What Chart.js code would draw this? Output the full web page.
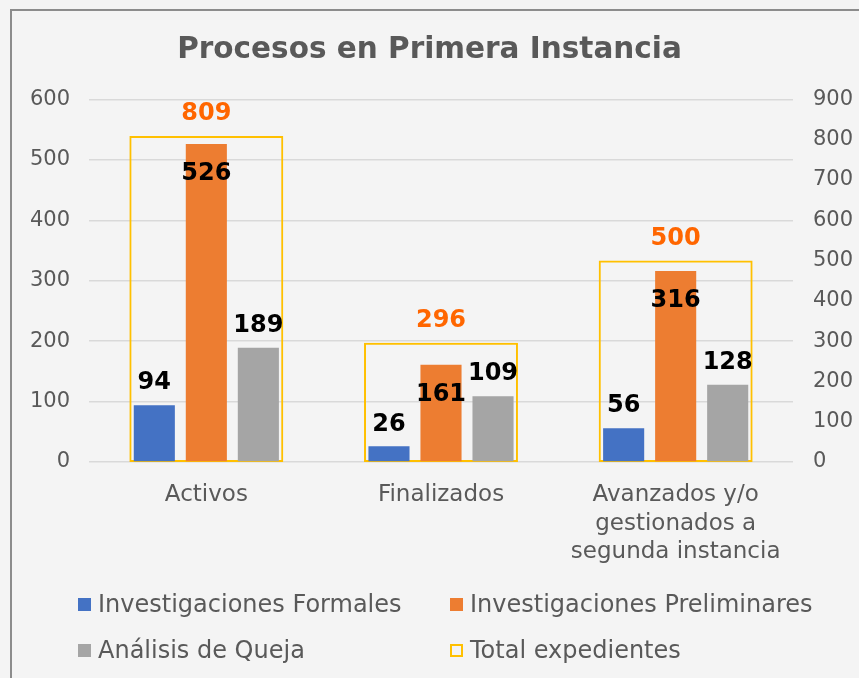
<!DOCTYPE html>
<html>
<head>
  <title>Procesos en Primera Instancia</title>
  <script src="https://cdn.jsdelivr.net/npm/chart.js@4.4.1/dist/chart.umd.min.js"></script>
  <style>
    html, body {
      margin: 0;
      padding: 0;
      background: #f4f4f4;
      font-family: "DejaVu Sans", Verdana, sans-serif;
    }
    #wrap {
      position: relative;
      width: 859px;
      height: 678px;
      overflow: hidden;
    }
    #frame {
      position: absolute;
      left: 10px;
      top: 9px;
      width: 900px;
      height: 700px;
      border-left: 2px solid #8c8c8c;
      border-top: 2px solid #8c8c8c;
    }
    #chart-box {
      position: absolute;
      left: 0;
      top: 0;
      width: 859px;
      height: 678px;
    }
    .legend {
      position: absolute;
      left: 0;
      top: 590px;
      width: 859px;
      color: #595959;
      font-size: 24px;
    }
    .legend .item {
      position: absolute;
      white-space: nowrap;
      line-height: 28px;
    }
    .legend .swatch {
      display: inline-block;
      width: 13px;
      height: 13px;
      margin-right: 7px;
      vertical-align: 1px;
      box-sizing: border-box;
    }
  </style>
</head>
<body>
  <div id="wrap">
    <div id="frame"></div>
    <div id="chart-box"><canvas id="chart"></canvas></div>
    <div class="legend" id="legend"></div>
  </div>

  <script>
    // data
    const categories = ['Activos', 'Finalizados', ['Avanzados y/o', 'gestionados a', 'segunda instancia']];
    const formales = [94, 26, 56];
    const preliminares = [526, 161, 316];
    const queja = [189, 109, 128];
    const totales = [809, 296, 500];
    const leftTicks = [0, 100, 200, 300, 400, 500, 600];
    const rightTicks = [0, 100, 200, 300, 400, 500, 600, 700, 800, 900];

    const FONT = '"DejaVu Sans", Verdana, sans-serif';
    const GREY_TXT = '#595959';

    // value labels drawn above / inside bars
    const valueLabels = {
      id: 'valueLabels',
      afterDatasetsDraw(chart) {
        const ctx = chart.ctx;
        ctx.save();
        ctx.font = 'bold 24px ' + FONT;
        ctx.textAlign = 'center';
        ctx.textBaseline = 'middle';
        chart.data.datasets.forEach((ds, i) => {
          const meta = chart.getDatasetMeta(i);
          meta.data.forEach((bar, j) => {
            const v = ds.data[j];
            let y = bar.y - 22;
            if (ds.labelPos === 'inside') y = bar.y + 30;
            ctx.fillStyle = ds.labelColor || '#000';
            ctx.fillText(String(v), bar.x, y);
          });
        });
        ctx.restore();
      }
    };

    const datasets = [
      {
        label: 'Investigaciones Formales',
        data: formales,
        backgroundColor: '#4472c4',
        yAxisID: 'y',
        categoryPercentage: 0.665,
        barPercentage: 0.79,
        labelPos: 'outside'
      },
      {
        label: 'Investigaciones Preliminares',
        data: preliminares,
        backgroundColor: '#ed7d31',
        yAxisID: 'y',
        categoryPercentage: 0.665,
        barPercentage: 0.79,
        labelPos: 'inside'
      },
      {
        label: 'Análisis de Queja',
        data: queja,
        backgroundColor: '#a5a5a5',
        yAxisID: 'y',
        categoryPercentage: 0.665,
        barPercentage: 0.79,
        labelPos: 'outside'
      },
      {
        label: 'Total expedientes',
        data: totales,
        backgroundColor: 'rgba(0,0,0,0)',
        borderColor: '#ffc000',
        borderWidth: 2,
        borderSkipped: false,
        yAxisID: 'y2',
        grouped: false,
        categoryPercentage: 0.656,
        barPercentage: 1,
        labelPos: 'outside',
        labelColor: '#ff6600'
      }
    ];

    const chart = new Chart(document.getElementById('chart'), {
      type: 'bar',
      data: { labels: categories, datasets: datasets },
      options: {
        responsive: true,
        maintainAspectRatio: false,
        animation: false,
        layout: {
          padding: { left: 0, right: 0, top: 0, bottom: 113 }
        },
        plugins: {
          legend: { display: false },
          tooltip: { enabled: false },
          title: {
            display: true,
            text: 'Procesos en Primera Instancia',
            color: GREY_TXT,
            font: { family: FONT, size: 29.5, weight: 'bold' },
            padding: { top: 33, bottom: 31 }
          }
        },
        scales: {
          x: {
            afterFit(axis) { axis.height = 103; },
            grid: { display: false, drawTicks: false },
            border: { display: false },
            ticks: {
              color: GREY_TXT,
              font: { family: FONT, size: 23, lineHeight: 1.24 },
              padding: 19,
              maxRotation: 0
            }
          },
          y: {
            position: 'left',
            min: leftTicks[0],
            max: leftTicks[leftTicks.length - 1],
            afterBuildTicks(axis) { axis.ticks = leftTicks.map(v => ({ value: v })); },
            afterFit(axis) { axis.width = 89; },
            grid: { color: '#d9d9d9', lineWidth: 1.5, drawTicks: false },
            border: { display: false },
            ticks: {
              color: GREY_TXT,
              font: { family: FONT, size: 21 },
              padding: 19
            }
          },
          y2: {
            position: 'right',
            min: rightTicks[0],
            max: rightTicks[rightTicks.length - 1],
            afterBuildTicks(axis) { axis.ticks = rightTicks.map(v => ({ value: v })); },
            afterFit(axis) { axis.width = 66; },
            grid: { display: false, drawTicks: false },
            border: { display: false },
            ticks: {
              color: GREY_TXT,
              font: { family: FONT, size: 21 },
              padding: 20
            }
          }
        }
      },
      plugins: [valueLabels]
    });

    // legend in two columns, like the original
    const legendPos = [
      { left: 78, top: 0 },
      { left: 450, top: 0 },
      { left: 78, top: 46 },
      { left: 450, top: 46 }
    ];
    const legendEl = document.getElementById('legend');
    datasets.forEach((ds, i) => {
      const item = document.createElement('div');
      item.className = 'item';
      item.style.left = legendPos[i].left + 'px';
      item.style.top = legendPos[i].top + 'px';
      const sw = document.createElement('span');
      sw.className = 'swatch';
      if (ds.borderColor) {
        sw.style.border = '2px solid ' + ds.borderColor;
      } else {
        sw.style.background = ds.backgroundColor;
      }
      item.appendChild(sw);
      item.appendChild(document.createTextNode(ds.label));
      legendEl.appendChild(item);
    });
  </script>
</body>
</html>
